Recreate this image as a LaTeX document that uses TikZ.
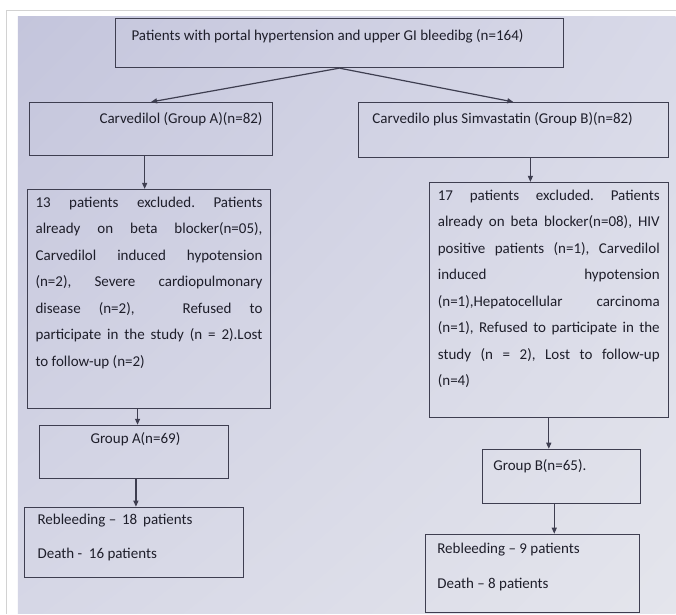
\documentclass[tikz,border=0pt]{standalone}
\usepackage{fontspec}
\setmainfont{Carlito}
\usetikzlibrary{calc,arrows.meta,shadings}

\definecolor{linec}{RGB}{62,62,80}
\definecolor{txtc}{RGB}{30,30,42}
\definecolor{bgul}{RGB}{196,197,220}
\definecolor{bgur}{RGB}{216,217,232}
\definecolor{bgll}{RGB}{214,215,230}
\definecolor{bglr}{RGB}{228,229,236}
\newcommand{\jw}{227pt}
\newcommand{\jline}[1]{\makebox[\jw][s]{#1}}
\frenchspacing

\begin{document}
\begin{tikzpicture}[x=1pt,y=-1pt,>={Triangle[length=6pt,width=5pt]},
	box/.style={draw=linec,line width=1.2pt,anchor=north west,inner sep=0pt,
		align=justify,text=txtc,font=\fontsize{15}{26.5}\selectfont},
	link/.style={->,draw=linec,line width=1.2pt}]

% paper and photo
\fill[white] (0,0) rectangle (676,614);
\draw[gray!35,line width=.8pt] (6,614) -- (6,10) -- (676,10);
\shade[upper left=bgul,upper right=bgur,lower left=bgll,lower right=bglr]
	(18,17) rectangle (676,614);

\node [box,text width=448pt,text height=22pt,text depth=27pt] (top) at (115,18)
	{\hspace*{16pt}Patients with portal hypertension and upper GI bleedibg (n=164)};

\node [box,text width=243pt,text height=21pt,text depth=32pt] (grpA) at (29,102)
	{\hspace*{70pt}Carvedilol (Group A)(n=82)};
\node [box,text width=310pt,text height=21pt,text depth=34pt] (grpB) at (358,102)
	{\hspace*{14pt}Carvedilo plus Simvastatin (Group B)(n=82)};

\node [box,text width=227pt,inner xsep=8pt,text height=18pt,text depth=201pt] (exA) at (27,189) {%
	\jline{13 patients excluded. Patients}\\
	\jline{already on beta blocker(n=05),}\\
	\jline{Carvedilol induced hypotension}\\
	\jline{(n=2), Severe cardiopulmonary}\\
	\jline{disease (n=2),\hspace{30pt} Refused to}\\
	\jline{participate in the study (n = 2).Lost}\\
	to follow-up (n=2)};
\node [box,text width=222pt,inner xsep=8.5pt,text height=18pt,text depth=217pt] (exB) at (429,182) {%
	\renewcommand{\jw}{222pt}%
	\jline{17 patients excluded. Patients}\\
	\jline{already on beta blocker(n=08), HIV}\\
	\jline{positive patients (n=1), Carvedilol}\\
	\jline{induced hypotension}\\
	\jline{(n=1),Hepatocellular carcinoma}\\
	\jline{(n=1), Refused to participate in the}\\
	\jline{study (n = 2), Lost to follow-up}\\
	(n=4)};

\node [box,text width=189pt,text height=18pt,text depth=35pt] (nA) at (39,425)
	{\hspace*{51pt}Group A(n=69)};
\node [box,text width=158pt,text height=21pt,text depth=33pt] (nB) at (482,449)
	{\hspace*{11pt}Group B(n=65).};

\node [box,text width=219pt,text height=17pt,text depth=53pt] (resA) at (24,507)
	{\hspace*{13pt}Rebleeding -- \,18\, patients\\[8pt]\hspace*{13pt}Death -\ \ 16 patients};
\node [box,text width=214pt,text height=19pt,text depth=59pt] (resB) at (425,534)
	{\hspace*{12pt}Rebleeding -- 9 patients\\[9pt]\hspace*{12pt}Death -- 8 patients};

% arrows
\draw [link] (top.south) to (grpA.north);
\draw [link] (top.south) to (grpB.north);
\draw [link] ($(grpA.south west)!.474!(grpA.south east)$) coordinate (a1) to (a1 |- exA.north);
\draw [link] ($(grpB.south west)!.555!(grpB.south east)$) coordinate (b1) to (b1 |- exB.north);
\draw [link] ($(exA.south west)!.453!(exA.south east)$) coordinate (a2) to (a2 |- nA.north);
\draw [link] (exB.south) to (exB.south |- nB.north);
\draw [link] ($(nA.south west)!.51!(nA.south east)$) coordinate (a3) to (a3 |- resA.north);
\draw [link] ($(nB.south west)!.456!(nB.south east)$) coordinate (b3) to (b3 |- resB.north);

\end{tikzpicture}
\end{document}
